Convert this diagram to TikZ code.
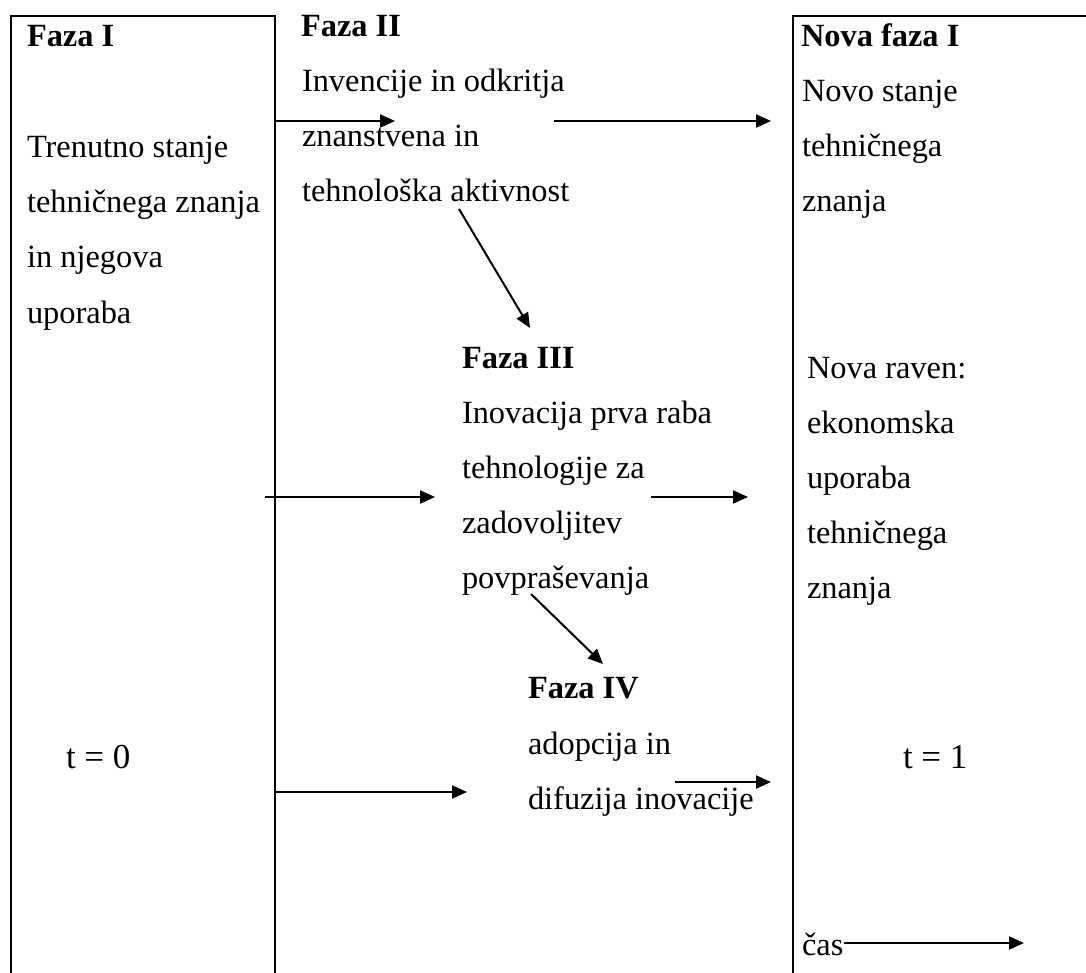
\documentclass[tikz,border=0pt]{standalone}
\usepackage{fontspec}
\setmainfont{Liberation Serif}
\usetikzlibrary{arrows.meta}

\tikzset{
  txt/.style={anchor=base west, inner sep=0pt, font=\fontsize{16.2}{19}\selectfont},
  hd/.style={txt, font=\fontsize{16.2}{19}\selectfont\bfseries},
  tlab/.style={txt, font=\fontsize{17.5}{21}\selectfont},
  flow/.style={-{Triangle[length=7.5pt,width=6.5pt]}},
}

\begin{document}
\begin{tikzpicture}[x=0.5pt,y=-0.5pt,line width=1pt]
\useasboundingbox (0,0) rectangle (1086,973);
% okvirja
\draw (11,985) -- (11,16) -- (275,16) -- (275,985);
\draw (793,985) -- (793,16) -- (1095,16);
% Faza I
\node[hd] (f1) at (26,47) {Faza I};
\foreach \ln [count=\k from 0] in {Trenutno stanje,tehničnega znanja,in njegova,uporaba}
  \node[txt] (f1-\k) at (26,{158+55*\k}) {\ln};
\node[tlab] (t0) at (65,768) {t = 0};
% Faza II
\node[hd] (f2) at (300,37) {Faza II};
\foreach \ln [count=\k from 0] in {Invencije in odkritja,znanstvena in,tehnološka aktivnost}
  \node[txt] (f2-\k) at (301,{92+55*\k}) {\ln};
% Faza III
\node[hd] (f3) at (461,368) {Faza III};
\foreach \ln [count=\k from 0] in {Inovacija prva raba,tehnologije za,zadovoljitev,povpraševanja}
  \node[txt] (f3-\k) at (461,{423+55*\k}) {\ln};
% Faza IV
\node[hd] (f4) at (527,698) {Faza IV};
\foreach \ln [count=\k from 0] in {adopcija in,difuzija inovacije}
  \node[txt] (f4-\k) at (527,{754+55*\k}) {\ln};
% Nova faza I
\node[hd] (n1) at (800,47) {Nova faza I};
\foreach \ln [count=\k from 0] in {Novo stanje,tehničnega,znanja}
  \node[txt] (n1-\k) at (801,{102+55*\k}) {\ln};
\foreach \ln [count=\k from 0] in {Nova raven:,ekonomska,uporaba,tehničnega,znanja}
  \node[txt] (nr-\k) at (806,{378+55*\k}) {\ln};
\node[tlab] (t1) at (902,768) {t = 1};
\node[txt] (cas) at (801,955) {čas};
% konci puscic
\coordinate (a1s) at (275,121); \coordinate (a1e) at (395,121);
\coordinate (a2s) at (554,121); \coordinate (a2e) at (771,121);
\coordinate (a3s) at (459,209); \coordinate (a3e) at (530,328);
\coordinate (a4s) at (265,497); \coordinate (a4e) at (435,497);
\coordinate (a5s) at (651,497); \coordinate (a5e) at (748,497);
\coordinate (a6s) at (531,594); \coordinate (a6e) at (603,664);
\coordinate (a7s) at (275,792); \coordinate (a7e) at (467,792);
\coordinate (a8s) at (675,782); \coordinate (a8e) at (771,782);
\coordinate (a9e) at (1024,943);
% puscice
\draw[flow] (a1s) -- (a1e);
\draw[flow] (a2s) -- (a2e);
\draw[flow] (a3s) -- (a3e);
\draw[flow] (a4s) -- (a4e);
\draw[flow] (a5s) -- (a5e);
\draw[flow] (a6s) -- (a6e);
\draw[flow] (a7s) -- (a7e);
\draw[flow] (a8s) -- (a8e);
\draw[flow] (cas.east |- a9e) -- (a9e);
\end{tikzpicture}
\end{document}
